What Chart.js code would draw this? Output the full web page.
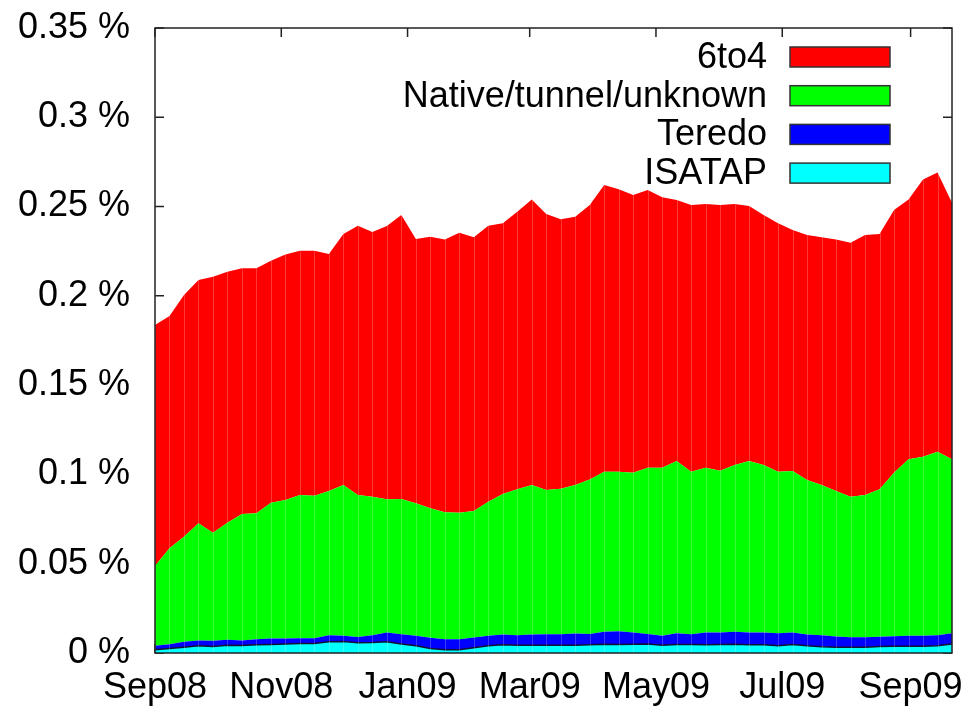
<!DOCTYPE html>
<html>
<head>
<meta charset="utf-8">
<script src="https://cdn.jsdelivr.net/npm/chart.js@4/dist/chart.umd.min.js"></script>
<style>
  html, body { margin: 0; padding: 0; background: #fff; }
  #wrap { width: 971px; height: 711px; position: relative; }
</style>
</head>
<body>
<div id="wrap"><canvas id="chart"></canvas></div>
<script>
// weekly samples, Sep 1 2008 .. Sep 21 2009 (values in %)
const isatap = [
  0.0018, 0.0025, 0.0032, 0.0040, 0.0036, 0.0044, 0.0042, 0.0046, 0.0048, 0.0051,
  0.0053, 0.0053, 0.0063, 0.0064, 0.0057, 0.0059, 0.0063, 0.0051, 0.0040, 0.0025,
  0.0018, 0.0018, 0.0029, 0.0040, 0.0046, 0.0044, 0.0044, 0.0044, 0.0044, 0.0044,
  0.0046, 0.0049, 0.0048, 0.0049, 0.0051, 0.0044, 0.0048, 0.0048, 0.0046, 0.0048,
  0.0049, 0.0046, 0.0046, 0.0040, 0.0048, 0.0040, 0.0035, 0.0032, 0.0032, 0.0032,
  0.0036, 0.0038, 0.0038, 0.0038, 0.0040, 0.0051
];
const teredo = [
  0.0022, 0.0024, 0.0031, 0.0030, 0.0032, 0.0030, 0.0028, 0.0031, 0.0033, 0.0030,
  0.0030, 0.0030, 0.0037, 0.0032, 0.0033, 0.0041, 0.0052, 0.0054, 0.0056, 0.0060,
  0.0059, 0.0059, 0.0058, 0.0056, 0.0058, 0.0056, 0.0060, 0.0061, 0.0061, 0.0065,
  0.0061, 0.0070, 0.0074, 0.0066, 0.0056, 0.0052, 0.0063, 0.0057, 0.0069, 0.0067,
  0.0070, 0.0069, 0.0069, 0.0071, 0.0067, 0.0064, 0.0065, 0.0060, 0.0056, 0.0056,
  0.0055, 0.0056, 0.0058, 0.0058, 0.0060, 0.0060
];
const native = [
  0.0447, 0.0537, 0.0588, 0.0656, 0.0606, 0.0656, 0.0708, 0.0705, 0.0761, 0.0776,
  0.0802, 0.0798, 0.0807, 0.0845, 0.0795, 0.0775, 0.0746, 0.0757, 0.0742, 0.0725,
  0.0711, 0.0709, 0.0708, 0.0751, 0.0786, 0.0817, 0.0837, 0.0808, 0.0815, 0.0832,
  0.0865, 0.0896, 0.0893, 0.0895, 0.0931, 0.0942, 0.0964, 0.0910, 0.0923, 0.0906,
  0.0934, 0.0960, 0.0938, 0.0904, 0.0904, 0.0865, 0.0841, 0.0815, 0.0787, 0.0797,
  0.0826, 0.0916, 0.0989, 0.1003, 0.1027, 0.0974
];
const sixToFour = [
  0.1350, 0.1301, 0.1354, 0.1363, 0.1433, 0.1405, 0.1376, 0.1372, 0.1355, 0.1375,
  0.1368, 0.1372, 0.1327, 0.1405, 0.1508, 0.1483, 0.1530, 0.1591, 0.1480, 0.1521,
  0.1528, 0.1568, 0.1533, 0.1546, 0.1516, 0.1554, 0.1599, 0.1545, 0.1509, 0.1502,
  0.1537, 0.1606, 0.1582, 0.1555, 0.1555, 0.1514, 0.1462, 0.1494, 0.1476, 0.1488,
  0.1461, 0.1428, 0.1400, 0.1391, 0.1350, 0.1372, 0.1387, 0.1409, 0.1423, 0.1456,
  0.1429, 0.1471, 0.1455, 0.1553, 0.1564, 0.1437
];

// x axis: days since Sep 1 2008, one sample per week
const days = isatap.map((_, i) => i * 7);
const monthDays = [0, 61, 122, 181, 242, 303, 365];
const monthLabels = ['Sep08', 'Nov08', 'Jan09', 'Mar09', 'May09', 'Jul09', 'Sep09'];

const FONT = '"Liberation Sans", Arial, Helvetica, sans-serif';
const toPoints = (arr) => arr.map((v, i) => ({ x: days[i], y: v }));

// inward tick marks, drawn behind the areas like gnuplot does
const tickMarks = {
  id: 'tickMarks',
  beforeDatasetsDraw(chart) {
    const { ctx, chartArea: a, scales: { x, y } } = chart;
    const len = 9;
    ctx.save();
    ctx.strokeStyle = '#222';
    ctx.lineWidth = 1.5;
    ctx.beginPath();
    y.ticks.forEach(t => {
      const py = y.getPixelForValue(t.value);
      ctx.moveTo(a.left, py); ctx.lineTo(a.left + len, py);
      ctx.moveTo(a.right, py); ctx.lineTo(a.right - len, py);
    });
    x.ticks.forEach(t => {
      const px = x.getPixelForValue(t.value);
      ctx.moveTo(px, a.top); ctx.lineTo(px, a.top + len);
      ctx.moveTo(px, a.bottom); ctx.lineTo(px, a.bottom - len);
    });
    ctx.stroke();
    ctx.restore();
  }
};

// faint light seams at every sample + the plot frame
const frame = {
  id: 'frame',
  afterDatasetsDraw(chart) {
    const { ctx, chartArea: a, scales: { x } } = chart;
    ctx.save();
    ctx.strokeStyle = 'rgba(255,255,255,0.22)';
    ctx.lineWidth = 1;
    ctx.beginPath();
    days.forEach(d => {
      const px = Math.round(x.getPixelForValue(d)) + 0.5;
      ctx.moveTo(px, a.top); ctx.lineTo(px, a.bottom);
    });
    ctx.stroke();
    ctx.strokeStyle = '#222';
    ctx.lineWidth = 1.5;
    ctx.strokeRect(a.left, a.top, a.right - a.left, a.bottom - a.top);
    ctx.restore();
  }
};

// gnuplot style key: label right aligned, colour box on its right
const keyBox = {
  id: 'keyBox',
  afterDraw(chart) {
    const { ctx, chartArea: a } = chart;
    const order = [3, 2, 1, 0];
    ctx.save();
    ctx.font = '36px ' + FONT;
    ctx.textAlign = 'right';
    ctx.textBaseline = 'middle';
    order.forEach((idx, row) => {
      const ds = chart.data.datasets[idx];
      const cy = a.top + 29 + row * 38.7;
      ctx.fillStyle = '#000';
      ctx.fillText(ds.label, a.right - 185, cy + 1);
      ctx.fillStyle = ds.backgroundColor;
      ctx.fillRect(a.right - 162, cy - 10, 100, 20);
      ctx.strokeStyle = '#333';
      ctx.lineWidth = 1.5;
      ctx.strokeRect(a.right - 162, cy - 10, 100, 20);
    });
    ctx.restore();
  }
};

const area = (label, data, color, fill, border) => ({
  label,
  data: toPoints(data),
  backgroundColor: color,
  borderColor: border || color,
  borderWidth: border ? 1.5 : 0,
  fill,
  pointRadius: 0,
  tension: 0
});

new Chart(document.getElementById('chart'), {
  type: 'line',
  data: {
    datasets: [
      area('ISATAP', isatap, '#00ffff', 'origin', '#101030'),
      area('Teredo', teredo, '#0000ff', '-1'),
      area('Native/tunnel/unknown', native, '#00ff00', '-1'),
      area('6to4', sixToFour, '#ff0000', '-1')
    ]
  },
  options: {
    responsive: true,
    maintainAspectRatio: false,
    animation: false,
    layout: { padding: { top: 28, right: 19, left: 0, bottom: 0 } },
    plugins: { legend: { display: false }, tooltip: { enabled: false } },
    scales: {
      x: {
        type: 'linear',
        min: 0,
        max: days[days.length - 1],
        afterBuildTicks: (scale) => { scale.ticks = monthDays.map(v => ({ value: v })); },
        afterFit: (scale) => {
          scale.height = 58;
          scale.paddingLeft = 0;
          scale.paddingRight = 0;
        },
        grid: { display: false, drawTicks: false },
        border: { display: false },
        ticks: {
          color: '#000',
          padding: 13,
          maxRotation: 0,
          font: { family: FONT, size: 36 },
          callback: (v) => monthLabels[monthDays.indexOf(v)]
        }
      },
      y: {
        stacked: true,
        min: 0,
        max: 0.35,
        afterFit: (scale) => {
          scale.width = 155;
          scale.paddingTop = 0;
          scale.paddingBottom = 0;
        },
        grid: { display: false, drawTicks: false },
        border: { display: false },
        ticks: {
          stepSize: 0.05,
          color: '#000',
          padding: 25,
          font: { family: FONT, size: 36 },
          callback: (v) => Number(v.toFixed(2)) + ' %'
        }
      }
    }
  },
  plugins: [tickMarks, frame, keyBox]
});
</script>
</body>
</html>
